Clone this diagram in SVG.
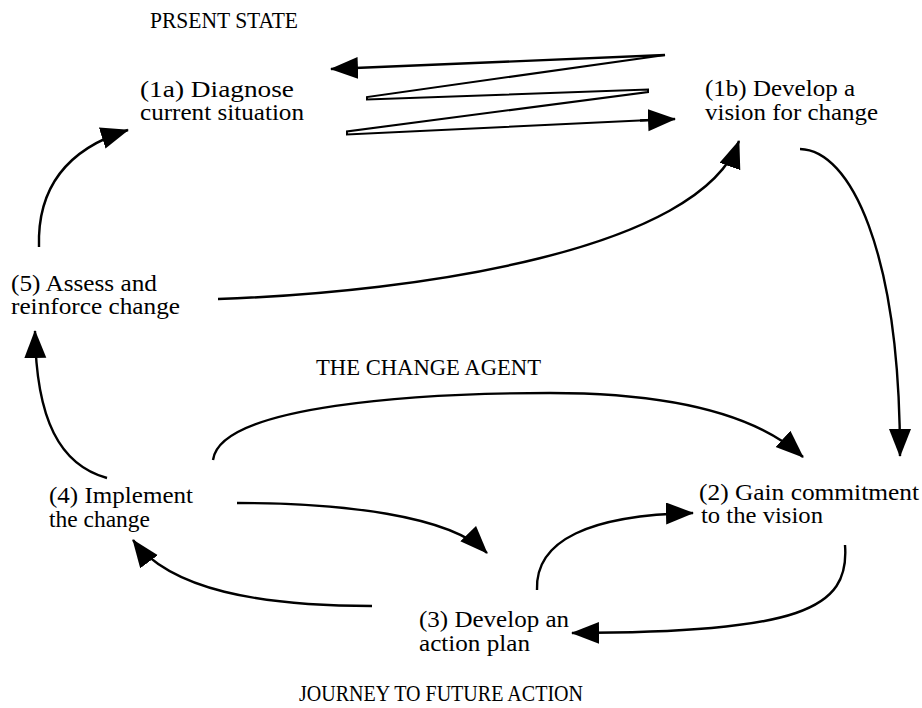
<svg xmlns="http://www.w3.org/2000/svg" width="922" height="708" viewBox="0 0 922 708">
<style>
text{font-family:"Liberation Serif","Times New Roman",serif;font-size:22.5px;fill:#000}
.c{fill:none;stroke:#000;stroke-width:2.4;marker-end:url(#ah)}
.z{fill:none;stroke:#000;stroke-width:2}
</style>
<defs>
<marker id="ah" markerUnits="userSpaceOnUse" markerWidth="30" markerHeight="24" refX="27" refY="11" orient="auto">
<path d="M0,0 L28,11 L0,22 z" fill="#000"/>
</marker>
</defs>
<rect width="922" height="708" fill="#fff"/>
<g id="labels">
<text x="150" y="28" textLength="148" lengthAdjust="spacingAndGlyphs">PRSENT STATE</text>
<text x="316" y="375" textLength="225" lengthAdjust="spacingAndGlyphs">THE CHANGE AGENT</text>
<text x="299" y="701" textLength="284" lengthAdjust="spacingAndGlyphs">JOURNEY TO FUTURE ACTION</text>
</g>
<g id="n1a"><text x="140" y="97" textLength="154" lengthAdjust="spacingAndGlyphs">(1a) Diagnose</text><text x="140" y="120" textLength="164" lengthAdjust="spacingAndGlyphs">current situation</text></g>
<g id="n1b"><text x="705" y="96" textLength="150" lengthAdjust="spacingAndGlyphs">(1b) Develop a</text><text x="705" y="120" textLength="173" lengthAdjust="spacingAndGlyphs">vision for change</text></g>
<g id="n5"><text x="11" y="291" textLength="146" lengthAdjust="spacingAndGlyphs">(5) Assess and</text><text x="11" y="314" textLength="169" lengthAdjust="spacingAndGlyphs">reinforce change</text></g>
<g id="n4"><text x="49" y="503" textLength="144" lengthAdjust="spacingAndGlyphs">(4) Implement</text><text x="49" y="527" textLength="101" lengthAdjust="spacingAndGlyphs">the change</text></g>
<g id="n2"><text x="699" y="500" textLength="220" lengthAdjust="spacingAndGlyphs">(2) Gain commitment</text><text x="701" y="523" textLength="122" lengthAdjust="spacingAndGlyphs">to the vision</text></g>
<g id="n3"><text x="419" y="627" textLength="150" lengthAdjust="spacingAndGlyphs">(3) Develop an</text><text x="419" y="651" textLength="111" lengthAdjust="spacingAndGlyphs">action plan</text></g>
<g id="connectors">
<path class="z" d="M665,55 L367,97 L367,99.5 L648,89.5 L648,92 L347,131.5 L347,134.5 L650,120"/>
<path class="c" d="M665,55 L331,69"/>
<path class="c" d="M640,120.5 L675,119"/>
<path class="c" d="M800,149 C850,150 900,250 900,456"/>
<path class="c" d="M218,299 C420,292 700,250 739,141"/>
<path class="c" d="M39,247 C37,185 70,148 128,130"/>
<path class="c" d="M107,478 C60,465 36,420 35,331"/>
<path class="c" d="M213,460 C220,405 420,393 550,393 C680,393 760,418 803,457"/>
<path class="c" d="M237,503 C340,503 450,515 487,553"/>
<path class="c" d="M372,606 C260,606 170,590 133,540"/>
<path class="c" d="M537,590 C535,540 590,515 693,513"/>
<path class="c" d="M845,545 C850,610 800,632 572,633"/>
</g>
</svg>
